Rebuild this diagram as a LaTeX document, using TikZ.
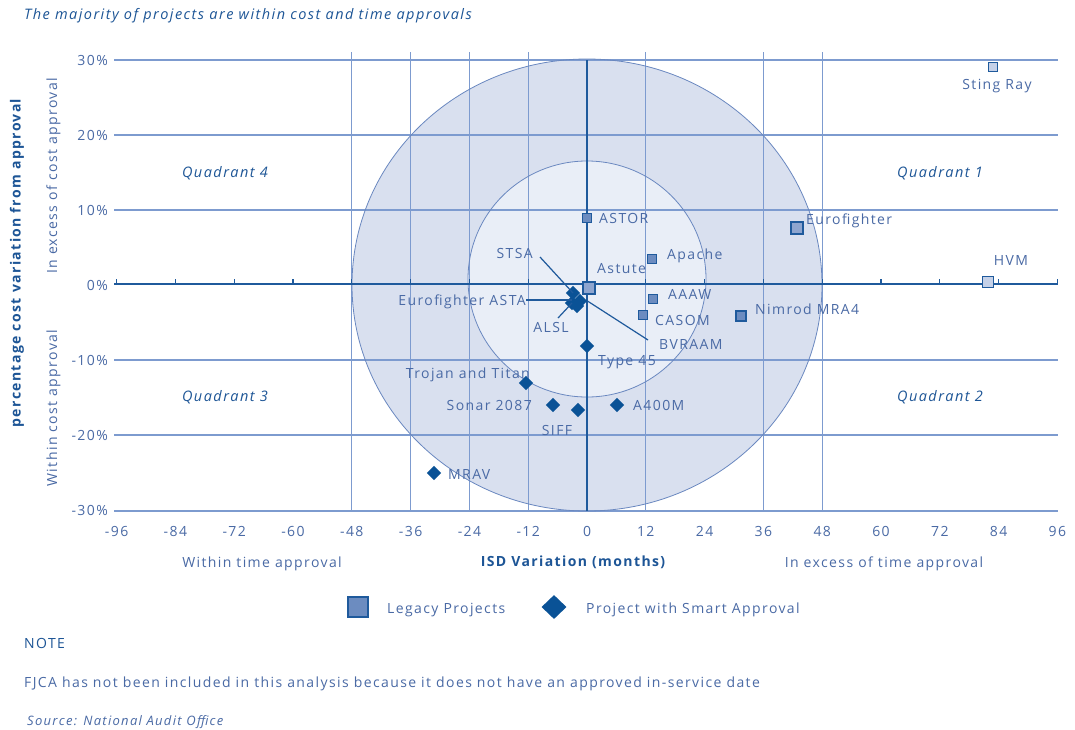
\documentclass[tikz,border=0pt]{standalone}
\usepackage{fontspec}
\setmainfont{Open Sans}[LetterSpace=10]
\usetikzlibrary{shapes.geometric}
\definecolor{gridc}{HTML}{7D9BCF}
\definecolor{axisc}{HTML}{1F5A9C}
\definecolor{dkblue}{HTML}{0A5296}
\definecolor{txtc}{HTML}{4A6AA5}
\definecolor{titc}{HTML}{1D5596}
\definecolor{outerfill}{HTML}{D9E0EF}
\definecolor{innerfill}{HTML}{E9EEF7}
\definecolor{circc}{HTML}{6A88C0}
\definecolor{sqmid}{HTML}{6C8CC0}
\definecolor{sqlight}{HTML}{8EA5CF}
\definecolor{sqpale}{HTML}{C5D1E8}
\begin{document}
\begin{tikzpicture}[x=1pt,y=-1pt,
  gridl/.style={draw=gridc,line width=1.2pt},
  axisl/.style={draw=axisc,line width=1.8pt},
  circl/.style={draw=circc,line width=0.8pt},
  leader/.style={draw=axisc,line width=1.2pt},
  lbl/.style={inner sep=0pt,text=txtc,font=\fontsize{14}{16}\selectfont,text height=10pt,text depth=0pt},
  ticklbl/.style={lbl},
  quad/.style={lbl,font=\fontsize{14.5}{16}\selectfont\itshape,text=titc},
  axtitle/.style={inner sep=0pt,text=titc,font=\fontsize{14}{16}\selectfont\bfseries},
  legacy/.style={rectangle,draw=axisc,line width=1.2pt,fill=sqmid,minimum size=9pt,inner sep=0pt},
  smart/.style={diamond,fill=dkblue,draw=none,minimum width=14.5pt,minimum height=14.5pt,inner sep=0pt}]
\useasboundingbox (0,0) rectangle (1075,729);
\fill[white] (0,0) rectangle (1075,729);
% circles
\fill[outerfill] (587,285) ellipse [x radius=235,y radius=226];
\fill[innerfill] (587,279) ellipse [x radius=119,y radius=118];
% grid
\foreach \yy in {60,135,210,360,435,511} \draw[gridl] (114,\yy) -- (1058,\yy);
\foreach \m in {-48,-36,-24,-12,12,36,48} \draw[gridl] ({587+4.9*\m},52) -- ({587+4.9*\m},511);
\draw[circl] (587,285) ellipse [x radius=235,y radius=226];
\draw[circl] (587,279) ellipse [x radius=119,y radius=118];
% axes
\draw[axisl] (114,284) -- (1058,284);
\draw[axisl] (587,60) -- (587,511);
\foreach \m in {-96,-84,...,96} \draw[axisc,line width=1.3pt] ({587+4.9*\m},284) -- ++(0,-5);
% tick labels
\foreach \m [count=\i] in {-96,-84,...,96} \node[ticklbl] (xt\i) at ({587+4.9*\m},531) {\m};
\node[ticklbl,anchor=east] (yt1) at (108,60) {30\%};
\node[ticklbl,anchor=east] (yt2) at (108,135) {20\%};
\node[ticklbl,anchor=east] (yt3) at (108,210) {10\%};
\node[ticklbl,anchor=east] (yt4) at (108,285) {0\%};
\node[ticklbl,anchor=east] (yt5) at (108,360) {-10\%};
\node[ticklbl,anchor=east] (yt6) at (108,435) {-20\%};
\node[ticklbl,anchor=east] (yt7) at (108,510) {-30\%};
% quadrants
\node[quad] (q4) at (225,172) {Quadrant 4};
\node[quad] (q1) at (940,172) {Quadrant 1};
\node[quad] (q3) at (225,396) {Quadrant 3};
\node[quad] (q2) at (940,396) {Quadrant 2};
% legacy projects
\node[legacy,fill=sqpale] (sting) at (993,67) {};
\node[legacy,fill=sqlight,minimum size=12pt] (euro) at (797,228) {};
\node[legacy,fill=sqpale,minimum size=11pt] (hvm) at (988,282) {};
\node[legacy] (astor) at (587,218) {};
\node[legacy] (apache) at (652,259) {};
\node[legacy,fill=sqlight,minimum size=12pt] (astute) at (589,288) {};
\node[legacy] (aaaw) at (653,299) {};
\node[legacy] (casom) at (643,315) {};
\node[legacy,minimum size=10pt] (nimrod) at (741,316) {};
% smart approval projects
\node[smart] (d1) at (573,293) {};
\node[smart] (d2) at (572,303) {};
\node[smart] (d3) at (580,301) {};
\node[smart] (d4) at (577,306) {};
\node[smart] (type45) at (587,346) {};
\node[smart] (trojan) at (526,383) {};
\node[smart] (sonar) at (553,405) {};
\node[smart] (siff) at (578,410) {};
\node[smart] (a400) at (617,405) {};
\node[smart] (mrav) at (434,473) {};
% labels
\node[lbl,anchor=west] (lastor) at (599,218) {ASTOR};
\node[lbl,anchor=west] (lapache) at (667,254) {Apache};
\node[lbl,anchor=west] (lastute) at (597,268) {Astute};
\node[lbl,anchor=west] (laaaw) at (668,294) {AAAW};
\node[lbl,anchor=west] (lcasom) at (655,320) {CASOM};
\node[lbl,anchor=west] (lbvraam) at (659,344) {BVRAAM};
\node[lbl,anchor=west] (lnimrod) at (755,309) {Nimrod MRA4};
\node[lbl,anchor=west] (leuro) at (806,219) {Eurofighter};
\node[lbl] (lhvm) at (1011,260) {HVM};
\node[lbl] (lsting) at (997,84) {Sting Ray};
\node[lbl,anchor=east] (lstsa) at (533,253) {STSA};
\node[lbl,anchor=east] (lasta) at (526,300) {Eurofighter ASTA};
\node[lbl] (lalsl) at (551,327) {ALSL};
\node[lbl] (ltype) at (627,360) {Type 45};
\node[lbl,anchor=east] (ltrojan) at (530,373) {Trojan and Titan};
\node[lbl,anchor=east] (lsonar) at (532,405) {Sonar 2087};
\node[lbl] (lsiff) at (557,430) {SIFF};
\node[lbl,anchor=west] (la400) at (633,405) {A400M};
\node[lbl,anchor=west] (lmrav) at (448,474) {MRAV};
% leader lines
\coordinate (stsaend) at (540,257);
\coordinate (alslend) at (558,318);
\coordinate (bvend) at (648,340);
\draw[leader] (stsaend) -- (d1.center);
\draw[leader] (lasta.east) -- (lasta.east -| d2.center);
\draw[leader] (alslend) -- (d2.center);
\draw[leader] (bvend) -- (d3.east);
% axis titles
\node[lbl] (wta) at (262,562) {Within time approval};
\node[axtitle] (isd) at (573,562) {ISD Variation (months)};
\node[lbl] (eta) at (884,562) {In excess of time approval};
\node[axtitle,rotate=90] (pcv) at (17,263) {percentage cost variation from approval};
\node[lbl,rotate=90] (eca) at (52,176) {In excess of cost approval};
\node[lbl,rotate=90] (wca) at (52,408) {Within cost approval};
% title
\node[lbl,anchor=west,font=\fontsize{14.5}{16}\selectfont\itshape,text=titc] (title) at (24,14) {The majority of projects are within cost and time approvals};
% legend
\node[legacy,minimum size=20pt,fill=sqmid,draw=axisc] (legsq) at (358,607) {};
\node[lbl,anchor=west] (legsqt) at (387,608) {Legacy Projects};
\node[smart,minimum width=25pt,minimum height=24pt] (legdia) at (554,607) {};
\node[lbl,anchor=west] (legdiat) at (586,608) {Project with Smart Approval};
% notes
\node[lbl,anchor=west,text=titc] (note) at (24,643) {NOTE};
\node[lbl,anchor=west] (notetext) at (24,682) {FJCA has not been included in this analysis because it does not have an approved in-service date};
\node[lbl,anchor=west,font=\fontsize{13}{15}\selectfont\itshape] (src) at (27,720) {Source: National Audit Office};
\end{tikzpicture}
\end{document}
